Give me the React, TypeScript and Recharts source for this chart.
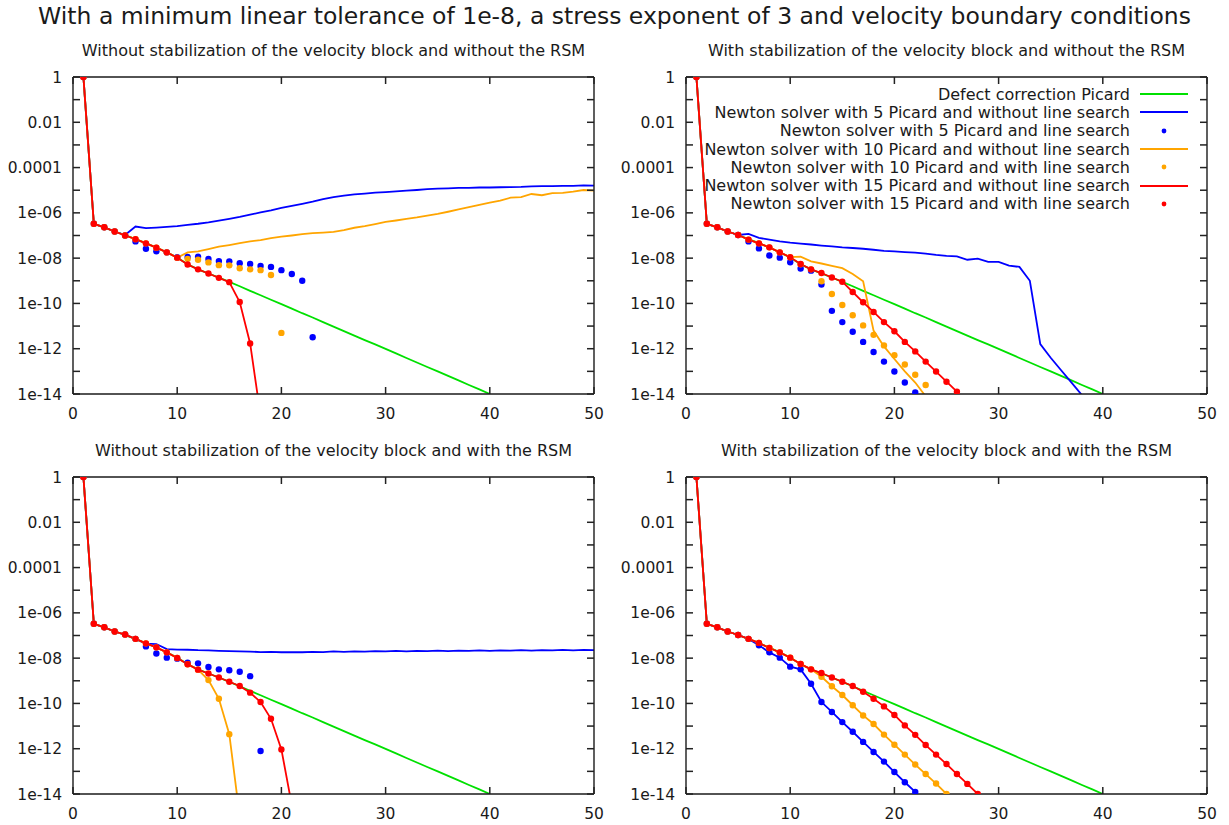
import React from "react";
import { LineChart, Line, XAxis, YAxis } from "recharts";

// colours as in the gnuplot output
const GREEN = "#00e000";
const BLUE = "#0000ff";
const ORANGE = "#ffa500";
const RED = "#ff0000";
const INK = "#1a1a1a";
const FONT = "'DejaVu Sans', sans-serif";

const TITLE =
  "With a minimum linear tolerance of 1e-8, a stress exponent of 3 and velocity boundary conditions";
const PANEL_TITLES = [
  "Without stabilization of the velocity block and without the RSM",
  "With stabilization of the velocity block and without the RSM",
  "Without stabilization of the velocity block and with the RSM",
  "With stabilization of the velocity block and with the RSM",
];

// nonlinear iteration number
const ITERATIONS = Array.from({ length: 50 }, (_, i) => i + 1);

const X_TICKS = [0, 10, 20, 30, 40, 50];
const Y_TICKS = [1, 1e-1, 1e-2, 1e-3, 1e-4, 1e-5, 1e-6, 1e-7, 1e-8, 1e-9, 1e-10, 1e-11, 1e-12, 1e-13, 1e-14];
const Y_TICK_LABELS = ["1", "", "0.01", "", "0.0001", "", "1e-06", "", "1e-08", "", "1e-10", "", "1e-12", "", "1e-14"];

// residuals, read per iteration (iteration 1 first)
const picard = [
  1, 3.3e-7, 2.3e-7, 1.5e-7, 1.05e-7, 6.9e-8, 4.6e-8, 2.95e-8, 1.8e-8, 1.07e-8,
  5.4e-9, 3.2e-9, 2.1e-9, 1.4e-9, 8.9e-10, 5.75e-10, 3.6e-10, 2.3e-10, 1.45e-10, 9.3e-11,
  5.9e-11, 3.7e-11, 2.4e-11, 1.5e-11, 9.5e-12, 6.0e-12, 3.8e-12, 2.4e-12, 1.55e-12, 9.8e-13,
  6.2e-13, 3.9e-13, 2.45e-13, 1.55e-13, 1.0e-13, 6.3e-14, 4.0e-14, 2.5e-14, 1.6e-14, 1.0e-14,
];

// panel 1: no stabilization, no RSM
const p1Blue = [
  1, 3.3e-7, 2.3e-7, 1.5e-7, 1.05e-7, 2.5e-7, 2.1e-7, 2.25e-7, 2.4e-7, 2.6e-7,
  2.95e-7, 3.3e-7, 3.8e-7, 4.5e-7, 5.4e-7, 6.6e-7, 8.3e-7, 1.05e-6, 1.3e-6, 1.65e-6,
  2.05e-6, 2.5e-6, 3.1e-6, 4.0e-6, 5.0e-6, 5.75e-6, 6.5e-6, 7.1e-6, 7.8e-6, 8.3e-6,
  8.9e-6, 9.5e-6, 1.02e-5, 1.12e-5, 1.17e-5, 1.2e-5, 1.26e-5, 1.26e-5, 1.32e-5, 1.32e-5,
  1.35e-5, 1.38e-5, 1.41e-5, 1.48e-5, 1.51e-5, 1.51e-5, 1.55e-5, 1.55e-5, 1.62e-5, 1.58e-5,
];
const p1BlueLS = [
  1, 3.3e-7, 2.3e-7, 1.5e-7, 1.0e-7, 5.5e-8, 2.6e-8, 2.0e-8, 1.8e-8, 1.1e-8,
  1.12e-8, 1.15e-8, 9.1e-9, 7.4e-9, 7.2e-9, 6.0e-9, 5.5e-9, 4.5e-9, 4.1e-9, 2.95e-9,
  2.0e-9, 1.0e-9, 3.2e-12,
];
const p1Orange = [
  1, 3.3e-7, 2.3e-7, 1.5e-7, 1.0e-7, 6.9e-8, 4.5e-8, 2.9e-8, 1.8e-8, 1.05e-8,
  1.8e-8, 2.0e-8, 2.5e-8, 3.2e-8, 3.8e-8, 4.6e-8, 5.5e-8, 6.3e-8, 7.6e-8, 8.9e-8,
  1.0e-7, 1.15e-7, 1.26e-7, 1.35e-7, 1.45e-7, 1.74e-7, 2.2e-7, 2.6e-7, 3.2e-7, 4.0e-7,
  4.6e-7, 5.4e-7, 6.3e-7, 7.6e-7, 9.1e-7, 1.12e-6, 1.41e-6, 1.78e-6, 2.24e-6, 2.8e-6,
  3.5e-6, 4.7e-6, 5.0e-6, 6.8e-6, 6.0e-6, 7.4e-6, 7.6e-6, 8.7e-6, 1.02e-5, 9.5e-6,
];
const p1OrangeLS = [
  1, 3.3e-7, 2.3e-7, 1.5e-7, 1.0e-7, 6.9e-8, 4.5e-8, 2.9e-8, 1.8e-8, 1.05e-8,
  9.3e-9, 8.5e-9, 6.5e-9, 4.9e-9, 4.8e-9, 3.6e-9, 3.2e-9, 2.95e-9, 1.8e-9, 5.0e-12,
];
const p1Red = [
  1, 3.3e-7, 2.3e-7, 1.5e-7, 1.0e-7, 6.9e-8, 4.5e-8, 2.9e-8, 1.8e-8, 1.05e-8,
  5.2e-9, 3.2e-9, 2.1e-9, 1.35e-9, 8.7e-10, 1.15e-10, 1.7e-12, 1.1e-15,
];
const p1RedLS = p1Red;

// panel 2: stabilization, no RSM
const p2Blue = [
  1, 3.3e-7, 2.3e-7, 1.5e-7, 1.05e-7, 1.17e-7, 7.8e-8, 6.6e-8, 5.5e-8, 4.8e-8,
  4.4e-8, 4.0e-8, 3.6e-8, 3.3e-8, 3.0e-8, 2.8e-8, 2.6e-8, 2.35e-8, 2.1e-8, 2.0e-8,
  1.86e-8, 1.74e-8, 1.58e-8, 1.38e-8, 1.26e-8, 1.2e-8, 8.5e-9, 9.5e-9, 6.8e-9, 6.8e-9,
  4.7e-9, 4.1e-9, 1.0e-9, 1.6e-12, 4.0e-13, 1.12e-13, 3.2e-14, 8.9e-15,
];
const p2BlueLS = [
  1, 3.3e-7, 2.3e-7, 1.5e-7, 1.05e-7, 5.5e-8, 2.7e-8, 1.3e-8, 1.05e-8, 6.6e-9,
  3.5e-9, 2.8e-9, 6.8e-10, 4.7e-11, 1.5e-11, 5.6e-12, 2.0e-12, 7.2e-13, 2.7e-13, 9.8e-14,
  3.2e-14, 1.17e-14,
];
const p2Orange = [
  1, 3.3e-7, 2.3e-7, 1.5e-7, 1.05e-7, 6.6e-8, 4.5e-8, 3.0e-8, 1.8e-8, 1.1e-8,
  1.17e-8, 7.2e-9, 5.8e-9, 4.6e-9, 3.6e-9, 2.0e-9, 9.5e-10, 6.3e-12, 1.26e-12, 3.5e-13,
  1.0e-13, 3.2e-14, 7.9e-15,
];
const p2OrangeLS = [
  1, 3.3e-7, 2.3e-7, 1.5e-7, 1.05e-7, 6.6e-8, 4.5e-8, 3.0e-8, 1.8e-8, 1.1e-8,
  5.4e-9, 3.2e-9, 9.5e-10, 2.6e-10, 8.5e-11, 3.0e-11, 1.07e-11, 4.1e-12, 1.4e-12, 5.2e-13,
  2.0e-13, 7.1e-14, 2.5e-14,
];
const p2Red = [
  1, 3.3e-7, 2.3e-7, 1.5e-7, 1.05e-7, 6.6e-8, 4.5e-8, 3.0e-8, 1.8e-8, 1.1e-8,
  5.5e-9, 3.2e-9, 2.2e-9, 1.4e-9, 9.1e-10, 3.2e-10, 1.12e-10, 4.2e-11, 1.5e-11, 5.9e-12,
  2.0e-12, 7.6e-13, 2.7e-13, 9.8e-14, 3.5e-14, 1.26e-14,
];
const p2RedLS = p2Red;

// panel 3: no stabilization, RSM
const p3Blue = [
  1, 3.3e-7, 2.3e-7, 1.5e-7, 1.1e-7, 7.1e-8, 4.4e-8, 4.2e-8, 2.5e-8, 2.4e-8,
  2.35e-8, 2.24e-8, 2.19e-8, 2.09e-8, 2.04e-8, 2.0e-8, 1.95e-8, 1.86e-8, 1.9e-8, 1.82e-8,
  1.86e-8, 1.82e-8, 1.9e-8, 1.86e-8, 2.0e-8, 1.9e-8, 2.0e-8, 1.95e-8, 2.04e-8, 2.0e-8,
  2.09e-8, 2.0e-8, 2.09e-8, 2.04e-8, 2.14e-8, 2.04e-8, 2.14e-8, 2.09e-8, 2.19e-8, 2.09e-8,
  2.19e-8, 2.14e-8, 2.24e-8, 2.14e-8, 2.24e-8, 2.19e-8, 2.3e-8, 2.19e-8, 2.3e-8, 2.24e-8,
];
const p3BlueLS = [
  1, 3.3e-7, 2.3e-7, 1.5e-7, 1.1e-7, 7.1e-8, 3.3e-8, 1.6e-8, 1.05e-8, 9.5e-9,
  6.3e-9, 5.9e-9, 4.1e-9, 3.2e-9, 2.9e-9, 2.5e-9, 1.6e-9, 7.9e-13,
];
const p3Orange = [
  1, 3.3e-7, 2.3e-7, 1.5e-7, 1.1e-7, 7.1e-8, 4.5e-8, 3.0e-8, 1.8e-8, 1.02e-8,
  5.4e-9, 3.1e-9, 1.07e-9, 1.6e-10, 4.4e-12, 1.0e-15,
];
const p3OrangeLS = p3Orange;
const p3Red = [
  1, 3.3e-7, 2.3e-7, 1.5e-7, 1.1e-7, 7.1e-8, 4.5e-8, 3.0e-8, 1.8e-8, 1.02e-8,
  5.4e-9, 3.1e-9, 2.1e-9, 1.4e-9, 9.1e-10, 5.9e-10, 3.0e-10, 1.15e-10, 2.1e-11, 9.3e-13,
  3.2e-15,
];
const p3RedLS = p3Red;

// panel 4: stabilization, RSM
const p4Blue = [
  1, 3.3e-7, 2.3e-7, 1.5e-7, 1.05e-7, 7.1e-8, 3.7e-8, 1.8e-8, 1.05e-8, 4.2e-9,
  3.2e-9, 7.4e-10, 1.15e-10, 4.2e-11, 1.5e-11, 5.6e-12, 2.0e-12, 7.2e-13, 2.7e-13, 9.3e-14,
  3.3e-14, 1.23e-14,
];
const p4BlueLS = p4Blue;
const p4Orange = [
  1, 3.3e-7, 2.3e-7, 1.5e-7, 1.05e-7, 7.1e-8, 4.7e-8, 2.8e-8, 1.8e-8, 1.05e-8,
  5.5e-9, 3.2e-9, 1.5e-9, 5.75e-10, 2.35e-10, 8.3e-11, 2.95e-11, 1.23e-11, 4.2e-12, 1.5e-12,
  5.5e-13, 2.0e-13, 7.6e-14, 2.9e-14, 1.0e-14,
];
const p4OrangeLS = p4Orange;
const p4Red = [
  1, 3.3e-7, 2.3e-7, 1.5e-7, 1.05e-7, 7.1e-8, 4.7e-8, 2.8e-8, 1.8e-8, 1.05e-8,
  5.5e-9, 3.2e-9, 2.2e-9, 1.4e-9, 9.1e-10, 5.9e-10, 3.3e-10, 1.6e-10, 7.4e-11, 3.1e-11,
  1.07e-11, 4.1e-12, 1.45e-12, 5.5e-13, 2.1e-13, 7.6e-14, 2.8e-14, 1.0e-14,
];
const p4RedLS = p4Red;

// drawing order = legend order (later ones on top)
const SERIES = [
  { key: "picard", name: "Defect correction Picard", color: GREEN, points: false },
  { key: "n5", name: "Newton solver with 5 Picard and without line search", color: BLUE, points: false },
  { key: "n5ls", name: "Newton solver with 5 Picard and line search", color: BLUE, points: true },
  { key: "n10", name: "Newton solver with 10 Picard and without line search", color: ORANGE, points: false },
  { key: "n10ls", name: "Newton solver with 10 Picard and with line search", color: ORANGE, points: true },
  { key: "n15", name: "Newton solver with 15 Picard and without line search", color: RED, points: false },
  { key: "n15ls", name: "Newton solver with 15 Picard and with line search", color: RED, points: true },
];

function buildRows(cols: Record<string, number[]>) {
  return ITERATIONS.map((it) => {
    const row: Record<string, number | undefined> = { it };
    Object.keys(cols).forEach((k) => {
      row[k] = cols[k][it - 1];
    });
    return row;
  });
}

const PANELS = [
  {
    title: PANEL_TITLES[0], left: 0, top: 40,
    rows: buildRows({ picard, n5: p1Blue, n5ls: p1BlueLS, n10: p1Orange, n10ls: p1OrangeLS, n15: p1Red, n15ls: p1RedLS }),
  },
  {
    title: PANEL_TITLES[1], left: 613, top: 40,
    rows: buildRows({ picard, n5: p2Blue, n5ls: p2BlueLS, n10: p2Orange, n10ls: p2OrangeLS, n15: p2Red, n15ls: p2RedLS }),
  },
  {
    title: PANEL_TITLES[2], left: 0, top: 440,
    rows: buildRows({ picard, n5: p3Blue, n5ls: p3BlueLS, n10: p3Orange, n10ls: p3OrangeLS, n15: p3Red, n15ls: p3RedLS }),
  },
  {
    title: PANEL_TITLES[3], left: 613, top: 440,
    rows: buildRows({ picard, n5: p4Blue, n5ls: p4BlueLS, n10: p4Orange, n10ls: p4OrangeLS, n15: p4Red, n15ls: p4RedLS }),
  },
];

const W = 614;
const H = 384;
const TL = 7; // inward tick length, gnuplot style
const TICK_STROKE = "#222";
const TICK_W = 1.5;
const border = { stroke: INK, strokeWidth: 1.4 };

function yLabel(v: number) {
  const i = Y_TICKS.indexOf(v);
  return i >= 0 ? Y_TICK_LABELS[i] : "";
}

// tick renderers: x/y is the point on the frame (tickSize 0, tickMargin 0)
function LeftTick(props: any) {
  const { x, y, payload } = props;
  return (
    <g>
      <path d={`M${x},${y}h${TL}`} stroke={TICK_STROKE} strokeWidth={TICK_W} fill="none" />
      <text x={x - 11} y={y + 5.5} textAnchor="end" fontSize={15.5} fill={INK} fontFamily={FONT}>
        {yLabel(payload.value)}
      </text>
    </g>
  );
}
function RightTick(props: any) {
  const { x, y } = props;
  return <path d={`M${x},${y}h${-TL}`} stroke={TICK_STROKE} strokeWidth={TICK_W} fill="none" />;
}
function BottomTick(props: any) {
  const { x, y, payload } = props;
  return (
    <g>
      <path d={`M${x},${y}v${-TL}`} stroke={TICK_STROKE} strokeWidth={TICK_W} fill="none" />
      <text x={x} y={y + 24.5} textAnchor="middle" fontSize={15.5} fill={INK} fontFamily={FONT}>
        {payload.value}
      </text>
    </g>
  );
}
function TopTick(props: any) {
  const { x, y } = props;
  return <path d={`M${x},${y}v${TL}`} stroke={TICK_STROKE} strokeWidth={TICK_W} fill="none" />;
}

function Legend() {
  return (
    <div
      style={{
        position: "absolute",
        left: 560,
        top: 85,
        width: 628,
        fontFamily: FONT,
        fontSize: 16,
        color: INK,
      }}
    >
      {SERIES.map((s) => (
        <div
          key={s.key}
          style={{ display: "flex", justifyContent: "flex-end", alignItems: "center", height: 18.3 }}
        >
          <span style={{ whiteSpace: "nowrap" }}>{s.name}</span>
          <svg width={48} height={10} style={{ marginLeft: 10 }}>
            {s.points ? (
              <circle cx={24} cy={5} r={2.4} fill={s.color} />
            ) : (
              <line x1={0} y1={5} x2={48} y2={5} stroke={s.color} strokeWidth={1.8} />
            )}
          </svg>
        </div>
      ))}
    </div>
  );
}

function Panel({ title, left, top, rows }: { title: string; left: number; top: number; rows: any[] }) {
  return (
    <div style={{ position: "absolute", left, top, width: W, height: H }}>
      <div
        style={{
          position: "absolute",
          left: 33,
          width: 601,
          top: 1.5,
          lineHeight: "18px",
          textAlign: "center",
          fontFamily: FONT,
          fontSize: 16,
          color: INK,
          whiteSpace: "nowrap",
        }}
      >
        {title}
      </div>
      <LineChart width={W} height={H} data={rows} margin={{ top: 36, right: 19, bottom: 0, left: 13 }}>
        <XAxis
          xAxisId="b"
          dataKey="it"
          type="number"
          domain={[0, 50]}
          ticks={X_TICKS}
          interval={0}
          height={30}
          tickSize={0}
          tickMargin={0}
          tick={<BottomTick />}
          axisLine={border}
          tickLine={false}
          allowDataOverflow
        />
        <XAxis
          xAxisId="t"
          orientation="top"
          dataKey="it"
          type="number"
          domain={[0, 50]}
          ticks={X_TICKS}
          interval={0}
          height={1}
          tickSize={0}
          tickMargin={0}
          tick={<TopTick />}
          axisLine={border}
          tickLine={false}
          allowDataOverflow
        />
        <YAxis
          yAxisId="l"
          type="number"
          scale="log"
          domain={[1e-14, 1]}
          ticks={Y_TICKS}
          interval={0}
          width={60}
          tickSize={0}
          tickMargin={0}
          tick={<LeftTick />}
          axisLine={border}
          tickLine={false}
          allowDataOverflow
        />
        <YAxis
          yAxisId="r"
          orientation="right"
          type="number"
          scale="log"
          domain={[1e-14, 1]}
          ticks={Y_TICKS}
          interval={0}
          width={1}
          tickSize={0}
          tickMargin={0}
          tick={<RightTick />}
          axisLine={border}
          tickLine={false}
          allowDataOverflow
        />
        {SERIES.map((s) =>
          s.points ? (
            <Line
              key={s.key}
              xAxisId="b"
              yAxisId="l"
              dataKey={s.key}
              name={s.name}
              stroke="none"
              dot={{ r: 3.2, fill: s.color, stroke: "none" }}
              activeDot={false}
              isAnimationActive={false}
            />
          ) : (
            <Line
              key={s.key}
              xAxisId="b"
              yAxisId="l"
              dataKey={s.key}
              name={s.name}
              stroke={s.color}
              strokeWidth={1.8}
              dot={false}
              activeDot={false}
              isAnimationActive={false}
            />
          )
        )}
      </LineChart>
    </div>
  );
}

export default function App() {
  return (
    <div style={{ position: "absolute", left: 0, top: 0, width: 1229, height: 825, background: "#fff" }}>
      <div
        style={{
          position: "absolute",
          left: 0,
          top: 3,
          width: 1229,
          textAlign: "center",
          fontFamily: FONT,
          fontSize: 23.5,
          lineHeight: "26px",
          color: INK,
          whiteSpace: "nowrap",
        }}
      >
        {TITLE}
      </div>
      {PANELS.map((p) => (
        <Panel key={p.title} title={p.title} left={p.left} top={p.top} rows={p.rows} />
      ))}
      <Legend />
    </div>
  );
}
